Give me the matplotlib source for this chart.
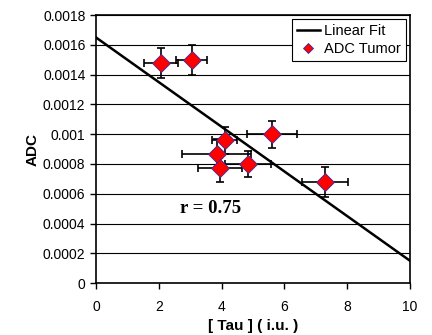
import matplotlib
matplotlib.use('Agg')
import matplotlib.pyplot as plt
import numpy as np

plt.rcParams['font.family'] = ['Liberation Sans', 'DejaVu Sans']

# ADC tumor points
tau = [2.07, 3.05, 5.6, 4.1, 3.85, 3.95, 4.84, 7.3]
adc = [0.00148, 0.0015, 0.001, 0.00096, 0.00087, 0.00077, 0.0008, 0.00068]
tau_err = [0.55, 0.5, 0.8, 0.4, 1.1, 0.7, 0.73, 0.73]
adc_err = [0.0001, 0.0001, 0.00009, 0.00009, 0.0001, 0.00009, 0.00009, 0.0001]

# linear fit end points
fit_x = [0, 10]
fit_y = [0.00165, 0.00015]

fig = plt.figure(figsize=(4.32, 3.35), dpi=100)
ax = fig.add_axes([0.222, 0.155, 0.727, 0.80])

ax.plot(fit_x, fit_y, color='black', linewidth=1.8, label='Linear Fit', zorder=3)
ax.errorbar(tau, adc, xerr=tau_err, yerr=adc_err, fmt='none', ecolor='black',
            elinewidth=1.2, capsize=3, capthick=1.2, zorder=4)
ax.plot(tau, adc, linestyle='None', marker='D', markersize=9, markerfacecolor='red',
        markeredgecolor='#3030a0', markeredgewidth=0.6, label='ADC Tumor', zorder=5)

ax.set_xlim(0, 10)
ax.set_ylim(0, 0.0018)
ax.set_xticks([0, 2, 4, 6, 8, 10])
ax.set_yticks(np.arange(0, 0.00181, 0.0002))
ax.set_yticklabels(['0', '0.0002', '0.0004', '0.0006', '0.0008', '0.001',
                    '0.0012', '0.0014', '0.0016', '0.0018'])
ax.yaxis.grid(True, color='black', linewidth=0.8)
ax.set_axisbelow(True)
ax.tick_params(labelsize=10, direction='out', length=4, width=1)
ax.tick_params(axis='x', pad=8)
for s in ax.spines.values():
    s.set_linewidth(1.2)

ax.set_xlabel('[ Tau ] ( i.u. )', fontsize=11, fontweight='bold', labelpad=4)
ax.set_ylabel('ADC', fontsize=11, fontweight='bold', labelpad=2)

ax.text(3.65, 0.0005, 'r = 0.75', fontsize=13.5, fontweight='bold',
        family='Liberation Serif', ha='center', va='center')

leg = ax.legend(loc='upper right', fontsize=10.5, frameon=True, fancybox=False,
                edgecolor='black', framealpha=1, handlelength=1.6, handletextpad=0.3,
                borderpad=0.3, labelspacing=0.3, borderaxespad=0.3, markerscale=0.6)
leg.get_frame().set_linewidth(0.8)

fig.savefig('out.png', dpi=100)
